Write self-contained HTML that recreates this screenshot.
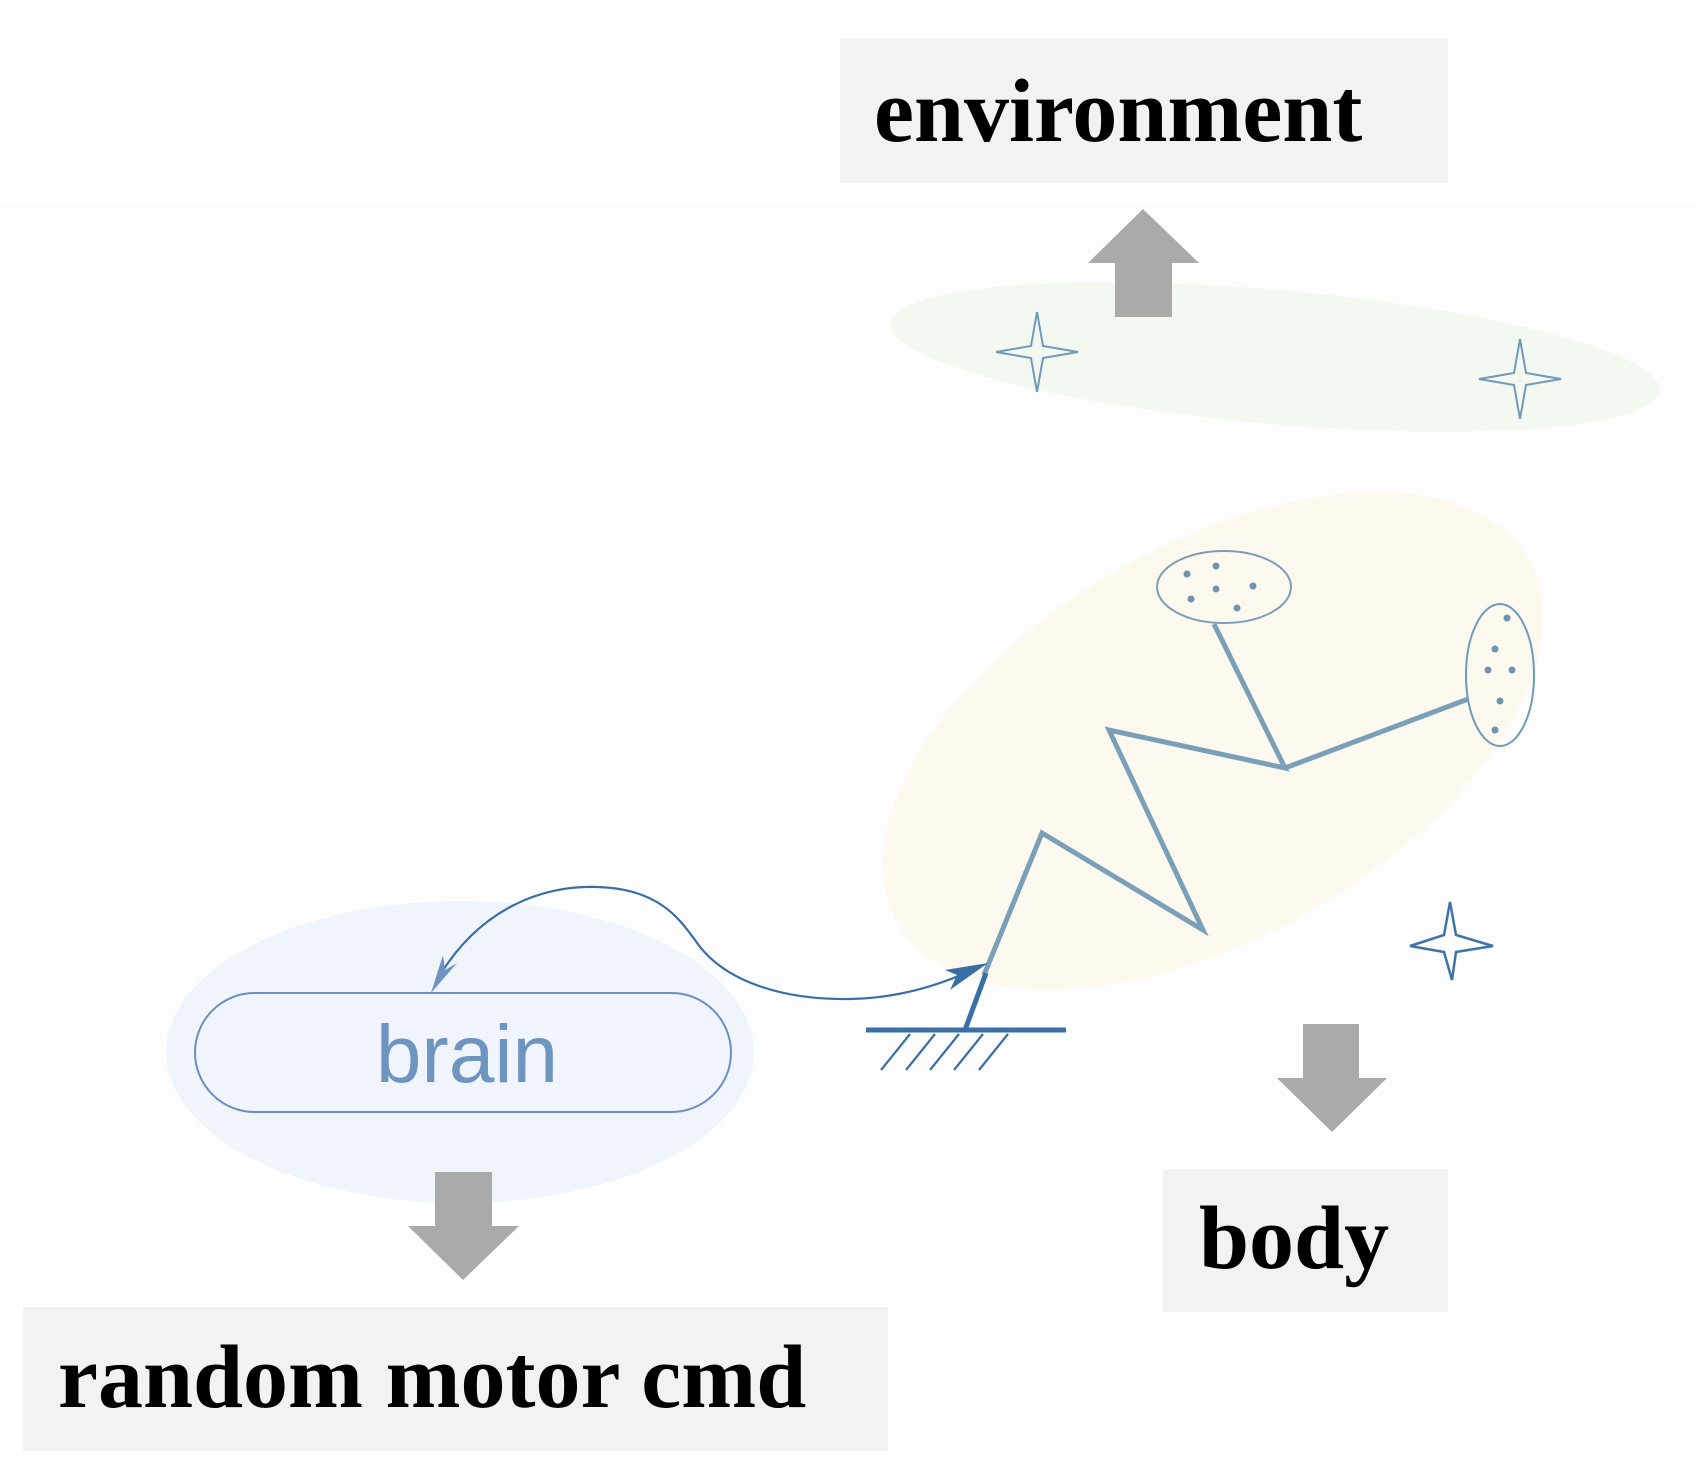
<!DOCTYPE html>
<html><head><meta charset="utf-8"><style>
html,body{margin:0;padding:0;background:#fff;}
svg{display:block;}
</style></head><body>
<svg width="1696" height="1478" viewBox="0 0 1696 1478" xmlns="http://www.w3.org/2000/svg">
<rect x="0" y="0" width="1696" height="1478" fill="#ffffff"/>
<rect x="0" y="205" width="1696" height="953" fill="#fdfdfd"/>
<!-- environment -->
<rect x="840" y="38" width="608" height="145" fill="#f2f2f2"/>
<text x="874" y="141" font-family="Liberation Serif, serif" font-weight="bold" font-size="90" fill="#000">environment</text>
<!-- green ellipse -->
<ellipse cx="1275" cy="357" rx="386" ry="67" transform="rotate(5 1275 357)" fill="#f3f8f0"/>
<polygon points="1143,209 1199,263 1172,263 1172,317 1115,317 1115,263 1088,263" fill="#aaaaaa"/>
<!-- yellow ellipse -->
<ellipse cx="1213" cy="741" rx="364" ry="196" transform="rotate(-30 1213 741)" fill="#fdf9ee"/>
<!-- brain bg -->
<ellipse cx="460" cy="1052" rx="294" ry="151" fill="#f0f4fb"/>
<!-- stars -->
<g fill="none" stroke="#6f9bbb" stroke-width="2">
<path d="M1037,312 L1043,346 L1078,352 L1043,358 L1037,392 L1031,358 L996,352 L1031,346 Z"/>
<path d="M1520,339 L1526,373 L1561,379 L1526,385 L1520,419 L1514,385 L1479,379 L1514,373 Z"/>
</g>
<path d="M1450,902 L1456,935 L1493,946 L1456,952 L1452,980 L1444,952 L1410,946 L1444,935 Z" fill="none" stroke="#3f74a8" stroke-width="2.5"/>
<!-- stick figure -->
<polyline points="984,975 1042,833 1203,930 1109,730 1285,768 1214,624" fill="none" stroke="#7a9fb8" stroke-width="5" stroke-linejoin="miter"/>
<line x1="1285" y1="768" x2="1468" y2="699" stroke="#7a9fb8" stroke-width="5"/>
<ellipse cx="1224" cy="587" rx="67" ry="36" fill="none" stroke="#7a9fb8" stroke-width="2"/>
<ellipse cx="1500" cy="675" rx="34" ry="71" fill="none" stroke="#6f9bbb" stroke-width="2"/>
<g fill="#6f94b0">
<circle cx="1187" cy="574" r="3.5"/><circle cx="1216" cy="566" r="3.5"/><circle cx="1253" cy="586" r="3.5"/>
<circle cx="1216" cy="589" r="3.5"/><circle cx="1191" cy="599" r="3.5"/><circle cx="1237" cy="608" r="3.5"/>
<circle cx="1507" cy="618" r="3.5"/><circle cx="1495" cy="649" r="3.5"/><circle cx="1488" cy="670" r="3.5"/>
<circle cx="1512" cy="670" r="3.5"/><circle cx="1500" cy="701" r="3.5"/><circle cx="1495" cy="730" r="3.5"/>
</g>
<!-- ground -->
<line x1="965" y1="1030" x2="986" y2="973" stroke="#3a6fa5" stroke-width="5"/>
<line x1="866" y1="1030" x2="1066" y2="1030" stroke="#3a6fa5" stroke-width="5"/>
<g stroke="#3a6fa5" stroke-width="2.2">
<line x1="910" y1="1034" x2="881" y2="1070"/><line x1="935" y1="1034" x2="906" y2="1070"/>
<line x1="959" y1="1034" x2="930" y2="1070"/><line x1="983" y1="1034" x2="954" y2="1070"/>
<line x1="1008" y1="1034" x2="979" y2="1070"/>
</g>
<!-- curve -->
<path d="M440,975 C480,910 540,885 598,887 C660,889 680,920 695,940 C725,985 790,1000 850,999 C900,998 940,985 972,970" fill="none" stroke="#3a6fa5" stroke-width="2.2"/>
<polygon points="431,993 443,955 445,970 457,963" fill="#6d94bf"/>
<polygon points="988,963 950,990 957,975 945,970" fill="#3a6fa5"/>
<!-- brain -->
<rect x="195" y="993" width="536" height="119" rx="59.5" ry="59.5" fill="#f0f4fc" stroke="#6b8fc0" stroke-width="2"/>
<text x="467" y="1082" text-anchor="middle" font-family="Liberation Sans, sans-serif" font-size="82" fill="#6e94c0">brain</text>
<!-- down arrows -->
<polygon points="435,1172 492,1172 492,1226 519,1226 463,1280 408,1226 435,1226" fill="#aaaaaa"/>
<polygon points="1303,1024 1359,1024 1359,1078 1387,1078 1332,1132 1277,1078 1303,1078" fill="#aaaaaa"/>
<!-- body -->
<rect x="1163" y="1169" width="285" height="143" fill="#f2f2f2"/>
<text x="1199" y="1268" font-family="Liberation Serif, serif" font-weight="bold" font-size="90" fill="#000">body</text>
<!-- random motor cmd -->
<rect x="23" y="1307" width="865" height="144" fill="#f2f2f2"/>
<text x="58" y="1407" font-family="Liberation Serif, serif" font-weight="bold" font-size="90" fill="#000">random motor cmd</text>
</svg>
</body></html>
